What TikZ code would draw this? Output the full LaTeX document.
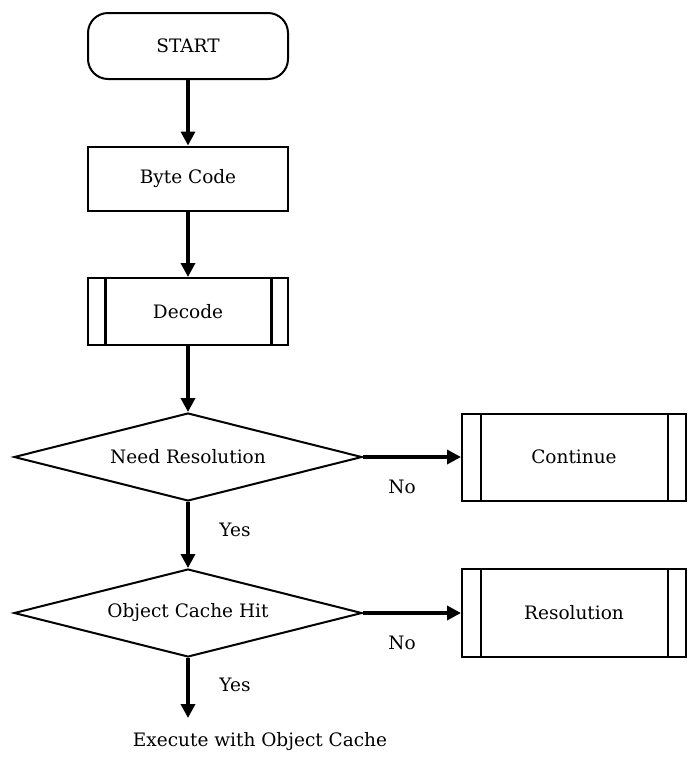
\documentclass[tikz,border=0pt]{standalone}
\usepackage{fontspec}
\setmainfont{DejaVu Serif}
\usetikzlibrary{arrows.meta,shapes.geometric,calc}

\tikzset{
  every node/.style={font=\fontsize{18.5}{22}\selectfont},
  startbox/.style={draw, line width=2pt, rounded corners=20pt, minimum width=200pt, minimum height=66pt},
  procbox/.style={draw, line width=2pt, minimum width=200pt, minimum height=64pt},
  subbox/.style={draw, line width=2pt, minimum width=224pt, minimum height=87pt},
  decision/.style={draw, line width=2pt, diamond, aspect=3.95, minimum width=348pt, minimum height=88pt, inner sep=0pt},
  flow/.style={line width=3.5pt, -{Triangle[length=14pt,width=14pt]}},
  lbl/.style={inner sep=0pt}
}

\begin{document}
\begin{tikzpicture}[x=1pt,y=-1pt]
  \useasboundingbox (0,0) rectangle (696,761);

  % main column
  \node[startbox] (start) at (188,46) {START};
  \node[procbox] (byte) at (188,178.5) {Byte Code};
  \node[procbox, minimum height=67pt] (decode) at (188,311.5) {Decode};
  \node[decision] (need) at (188,457) {Need Resolution};
  \node[decision] (hit) at (188,613) {Object Cache Hit};
  \coordinate (done) at (188,718);
  \node[lbl] (exec) at (260,742) {Execute with Object Cache};

  % side boxes
  \node[subbox] (cont) at (574,457) {Continue};
  \node[subbox, minimum height=88pt] (resol) at (574,613) {Resolution};

  % inner bars of the predefined-process boxes
  \draw[line width=3pt] ($(decode.north west)+(18,0)$) -- ($(decode.south west)+(18,0)$);
  \draw[line width=3pt] ($(decode.north east)+(-18,0)$) -- ($(decode.south east)+(-18,0)$);
  \draw[line width=2pt] ($(cont.north west)+(20,0)$) -- ($(cont.south west)+(20,0)$);
  \draw[line width=2pt] ($(cont.north east)+(-19,0)$) -- ($(cont.south east)+(-19,0)$);
  \draw[line width=2pt] ($(resol.north west)+(20,0)$) -- ($(resol.south west)+(20,0)$);
  \draw[line width=2pt] ($(resol.north east)+(-19,0)$) -- ($(resol.south east)+(-19,0)$);

  % connectors
  \draw[flow] (start) -- (byte);
  \draw[flow] (byte) -- (decode);
  \draw[flow] (decode) -- (need.north);
  \draw[flow] (need.south) -- (hit.north);
  \draw[flow] (hit.south) -- (done);
  \draw[flow] (need.east) -- (cont.west);
  \draw[flow] (hit.east) -- (resol.west);

  % branch labels
  \node[lbl] (no1) at (402,487) {No};
  \node[lbl] (yes1) at (235,530) {Yes};
  \node[lbl] (no2) at (402,643) {No};
  \node[lbl] (yes2) at (235,685) {Yes};
\end{tikzpicture}
\end{document}
